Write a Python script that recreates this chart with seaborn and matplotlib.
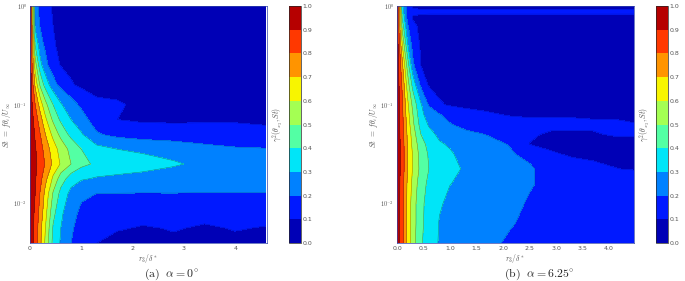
import matplotlib
matplotlib.use('Agg')
import matplotlib.pyplot as plt
import numpy as np
import seaborn as sns

# ---- data (gamma^2 on a coarse grid) ----
# panel (a), alpha = 0 deg
xa = [0, 0.1, 0.2, 0.3, 0.45, 0.6, 0.8, 1.0, 1.3, 1.7, 2.2, 2.8, 3.4, 4.0, 4.6]
log_st_a = [-2.4, -2.25, -2.1, -1.9, -1.75, -1.6, -1.45, -1.3, -1.15, -1.0,
            -0.8, -0.6, -0.4, -0.2, 0.0]
gamma_a = [
    [0.97, 0.87, 0.72, 0.58, 0.37, 0.29, 0.20, 0.16, 0.10, 0.08, 0.08, 0.09, 0.08, 0.09, 0.08],
    [0.97, 0.87, 0.73, 0.60, 0.39, 0.30, 0.21, 0.17, 0.12, 0.106, 0.094, 0.104, 0.093, 0.103, 0.097],
    [0.97, 0.88, 0.76, 0.63, 0.43, 0.32, 0.23, 0.18, 0.15, 0.14, 0.13, 0.13, 0.12, 0.12, 0.12],
    [0.97, 0.90, 0.79, 0.67, 0.49, 0.37, 0.27, 0.22, 0.199, 0.198, 0.197, 0.198, 0.197, 0.196, 0.197],
    [0.97, 0.91, 0.83, 0.73, 0.58, 0.45, 0.35, 0.31, 0.29, 0.28, 0.27, 0.26, 0.25, 0.25, 0.25],
    [0.97, 0.92, 0.86, 0.79, 0.68, 0.59, 0.50, 0.43, 0.38, 0.36, 0.34, 0.31, 0.28, 0.27, 0.26],
    [0.97, 0.91, 0.84, 0.76, 0.65, 0.56, 0.47, 0.40, 0.33, 0.30, 0.28, 0.26, 0.23, 0.21, 0.205],
    [0.97, 0.89, 0.80, 0.70, 0.57, 0.47, 0.37, 0.31, 0.21, 0.17, 0.15, 0.14, 0.13, 0.13, 0.12],
    [0.97, 0.86, 0.74, 0.62, 0.48, 0.38, 0.30, 0.24, 0.15, 0.10, 0.085, 0.085, 0.09, 0.09, 0.085],
    [0.97, 0.80, 0.65, 0.53, 0.40, 0.31, 0.24, 0.18, 0.12, 0.11, 0.08, 0.07, 0.07, 0.07, 0.07],
    [0.97, 0.68, 0.48, 0.36, 0.24, 0.17, 0.11, 0.08, 0.06, 0.06, 0.06, 0.06, 0.06, 0.06, 0.06],
    [0.97, 0.55, 0.33, 0.23, 0.14, 0.095, 0.07, 0.06, 0.05, 0.05, 0.05, 0.05, 0.05, 0.05, 0.05],
    [0.97, 0.40, 0.24, 0.18, 0.11, 0.08, 0.06, 0.05, 0.05, 0.05, 0.05, 0.05, 0.05, 0.05, 0.05],
    [0.97, 0.28, 0.19, 0.15, 0.10, 0.07, 0.06, 0.05, 0.05, 0.05, 0.05, 0.05, 0.05, 0.05, 0.05],
    [0.97, 0.24, 0.17, 0.13, 0.09, 0.07, 0.06, 0.05, 0.05, 0.05, 0.05, 0.05, 0.05, 0.05, 0.05],
]

# panel (b), alpha = 6.25 deg
xb = [0, 0.1, 0.2, 0.3, 0.45, 0.6, 0.8, 1.0, 1.3, 1.7, 2.1, 2.5, 2.9, 3.3, 3.7, 4.1, 4.47]
log_st_b = [-2.4, -2.2, -2.0, -1.8, -1.65, -1.5, -1.4, -1.3, -1.2, -1.1, -1.0,
            -0.8, -0.6, -0.4, -0.2, -0.12, -0.06, 0.0]
gamma_b = [
    [0.97, 0.83, 0.67, 0.54, 0.41, 0.36, 0.29, 0.27, 0.25, 0.22, 0.19, 0.17, 0.16, 0.16, 0.15, 0.15, 0.15],
    [0.97, 0.83, 0.67, 0.55, 0.42, 0.36, 0.295, 0.27, 0.25, 0.23, 0.21, 0.18, 0.16, 0.16, 0.15, 0.15, 0.15],
    [0.97, 0.83, 0.67, 0.55, 0.42, 0.37, 0.31, 0.28, 0.26, 0.24, 0.23, 0.19, 0.17, 0.16, 0.15, 0.15, 0.15],
    [0.97, 0.84, 0.68, 0.57, 0.44, 0.38, 0.33, 0.302, 0.28, 0.26, 0.24, 0.21, 0.17, 0.16, 0.15, 0.15, 0.15],
    [0.97, 0.85, 0.70, 0.59, 0.47, 0.40, 0.34, 0.32, 0.29, 0.26, 0.24, 0.21, 0.17, 0.13, 0.12, 0.102, 0.095],
    [0.97, 0.85, 0.70, 0.59, 0.46, 0.39, 0.33, 0.31, 0.27, 0.24, 0.21, 0.18, 0.11, 0.09, 0.08, 0.08, 0.08],
    [0.97, 0.85, 0.69, 0.57, 0.44, 0.37, 0.31, 0.29, 0.25, 0.22, 0.198, 0.098, 0.08, 0.08, 0.08, 0.08, 0.08],
    [0.97, 0.84, 0.68, 0.55, 0.40, 0.33, 0.28, 0.26, 0.22, 0.197, 0.16, 0.11, 0.09, 0.09, 0.095, 0.105, 0.105],
    [0.97, 0.83, 0.66, 0.52, 0.36, 0.29, 0.24, 0.205, 0.17, 0.14, 0.13, 0.12, 0.12, 0.12, 0.11, 0.11, 0.102],
    [0.97, 0.82, 0.64, 0.50, 0.33, 0.25, 0.205, 0.17, 0.13, 0.11, 0.095, 0.09, 0.09, 0.09, 0.09, 0.09, 0.09],
    [0.97, 0.81, 0.62, 0.47, 0.31, 0.19, 0.11, 0.09, 0.08, 0.075, 0.07, 0.07, 0.07, 0.07, 0.07, 0.07, 0.07],
    [0.97, 0.78, 0.55, 0.36, 0.18, 0.09, 0.07, 0.06, 0.06, 0.06, 0.06, 0.06, 0.06, 0.06, 0.06, 0.06, 0.06],
    [0.97, 0.72, 0.45, 0.22, 0.098, 0.07, 0.06, 0.06, 0.06, 0.06, 0.06, 0.06, 0.06, 0.06, 0.06, 0.06, 0.06],
    [0.97, 0.60, 0.31, 0.16, 0.09, 0.06, 0.06, 0.06, 0.06, 0.06, 0.06, 0.06, 0.06, 0.06, 0.06, 0.06, 0.06],
    [0.97, 0.45, 0.21, 0.12, 0.08, 0.06, 0.06, 0.06, 0.06, 0.06, 0.06, 0.06, 0.06, 0.06, 0.06, 0.06, 0.06],
    [0.97, 0.38, 0.17, 0.09, 0.08, 0.075, 0.075, 0.075, 0.075, 0.075, 0.075, 0.075, 0.075, 0.075, 0.075, 0.075, 0.075],
    [0.97, 0.35, 0.16, 0.12, 0.115, 0.115, 0.115, 0.115, 0.115, 0.115, 0.115, 0.115, 0.115, 0.115, 0.115, 0.115, 0.115],
    [0.97, 0.32, 0.15, 0.085, 0.08, 0.08, 0.08, 0.08, 0.08, 0.08, 0.08, 0.08, 0.08, 0.08, 0.08, 0.08, 0.08],
]

xticks_a = [0, 1, 2, 3, 4]
xticks_b = [0.0, 0.5, 1.0, 1.5, 2.0, 2.5, 3.0, 3.5, 4.0]
cbar_ticks = [0.0, 0.1, 0.2, 0.3, 0.4, 0.5, 0.6, 0.7, 0.8, 0.9, 1.0]

sns.set_style('white')
plt.rcParams['mathtext.fontset'] = 'cm'
plt.rcParams['font.family'] = ['DejaVu Sans']

cmap = matplotlib.colormaps['jet']
levels = np.linspace(0, 1, 11)
tick_col = '#555555'

fig = plt.figure(figsize=(6.85, 2.81), dpi=100)


def panel(rect, crect, x, logst, z, xticks, xfmt, xmax, caption, cap_x):
    ax = fig.add_axes(rect)
    cax = fig.add_axes(crect)
    st = 10.0 ** np.array(logst)
    cf = ax.contourf(x, st, np.array(z), levels=levels, cmap=cmap, vmin=0, vmax=1)
    # contour edges: faint on the blue levels, clearer on the warm ones
    ax.contour(x, st, np.array(z), levels=levels[1:3], colors='k',
               linewidths=0.3, alpha=0.3)
    ax.contour(x, st, np.array(z), levels=levels[3:-1], colors='#223322',
               linewidths=0.35, alpha=0.6)
    ax.set_yscale('log')
    ax.set_xlim(0, xmax)
    ax.set_ylim(10 ** -2.4, 1)
    ax.set_xticks(xticks)
    ax.set_xticklabels([xfmt.format(t) for t in xticks])
    ax.set_yticks([1e-2, 1e-1, 1])
    ax.set_yticklabels([r'$10^{-2}$', r'$10^{-1}$', r'$10^{0}$'])
    ax.yaxis.set_minor_locator(matplotlib.ticker.NullLocator())
    ax.tick_params(labelsize=4.5, colors=tick_col, length=2, width=0.4,
                   direction='in', pad=2)
    for s in ax.spines.values():
        s.set_linewidth(0.5)
        s.set_color('#3344aa')
    ax.set_xlabel(r'$r_3/\delta^*$', fontsize=5.5, color=tick_col, labelpad=1)
    ax.set_ylabel(r'$St\ =\ f\theta_i/U_\infty$', fontsize=5.5, color=tick_col,
                  labelpad=0.5)

    cb = fig.colorbar(cf, cax=cax, ticks=cbar_ticks)
    cb.ax.set_yticklabels(['{:.1f}'.format(t) for t in cbar_ticks])
    cb.ax.tick_params(labelsize=4.5, colors=tick_col, length=0, pad=1)
    cb.outline.set_linewidth(0.5)
    cb.set_label(r'$\gamma^2(\theta_{x_3},St)$', fontsize=5.5, color=tick_col,
                 labelpad=3)
    cb.ax.yaxis.set_label_position('left')

    fig.text(cap_x, 0.022, caption, ha='center', va='center', fontsize=8.5)


panel([0.0438, 0.1352, 0.346, 0.8434], [0.4219, 0.1352, 0.0175, 0.8434],
      xa, log_st_a, gamma_a, xticks_a, '{:d}', 4.62,
      r'$\mathrm{(a)}\ \ \alpha = 0^{\circ}$', 0.25)
panel([0.5796, 0.1352, 0.346, 0.8434], [0.9577, 0.1352, 0.0175, 0.8434],
      xb, log_st_b, gamma_b, xticks_b, '{:.1f}', 4.47,
      r'$\mathrm{(b)}\ \ \alpha = 6.25^{\circ}$', 0.787)

fig.savefig('out.png', dpi=100)
